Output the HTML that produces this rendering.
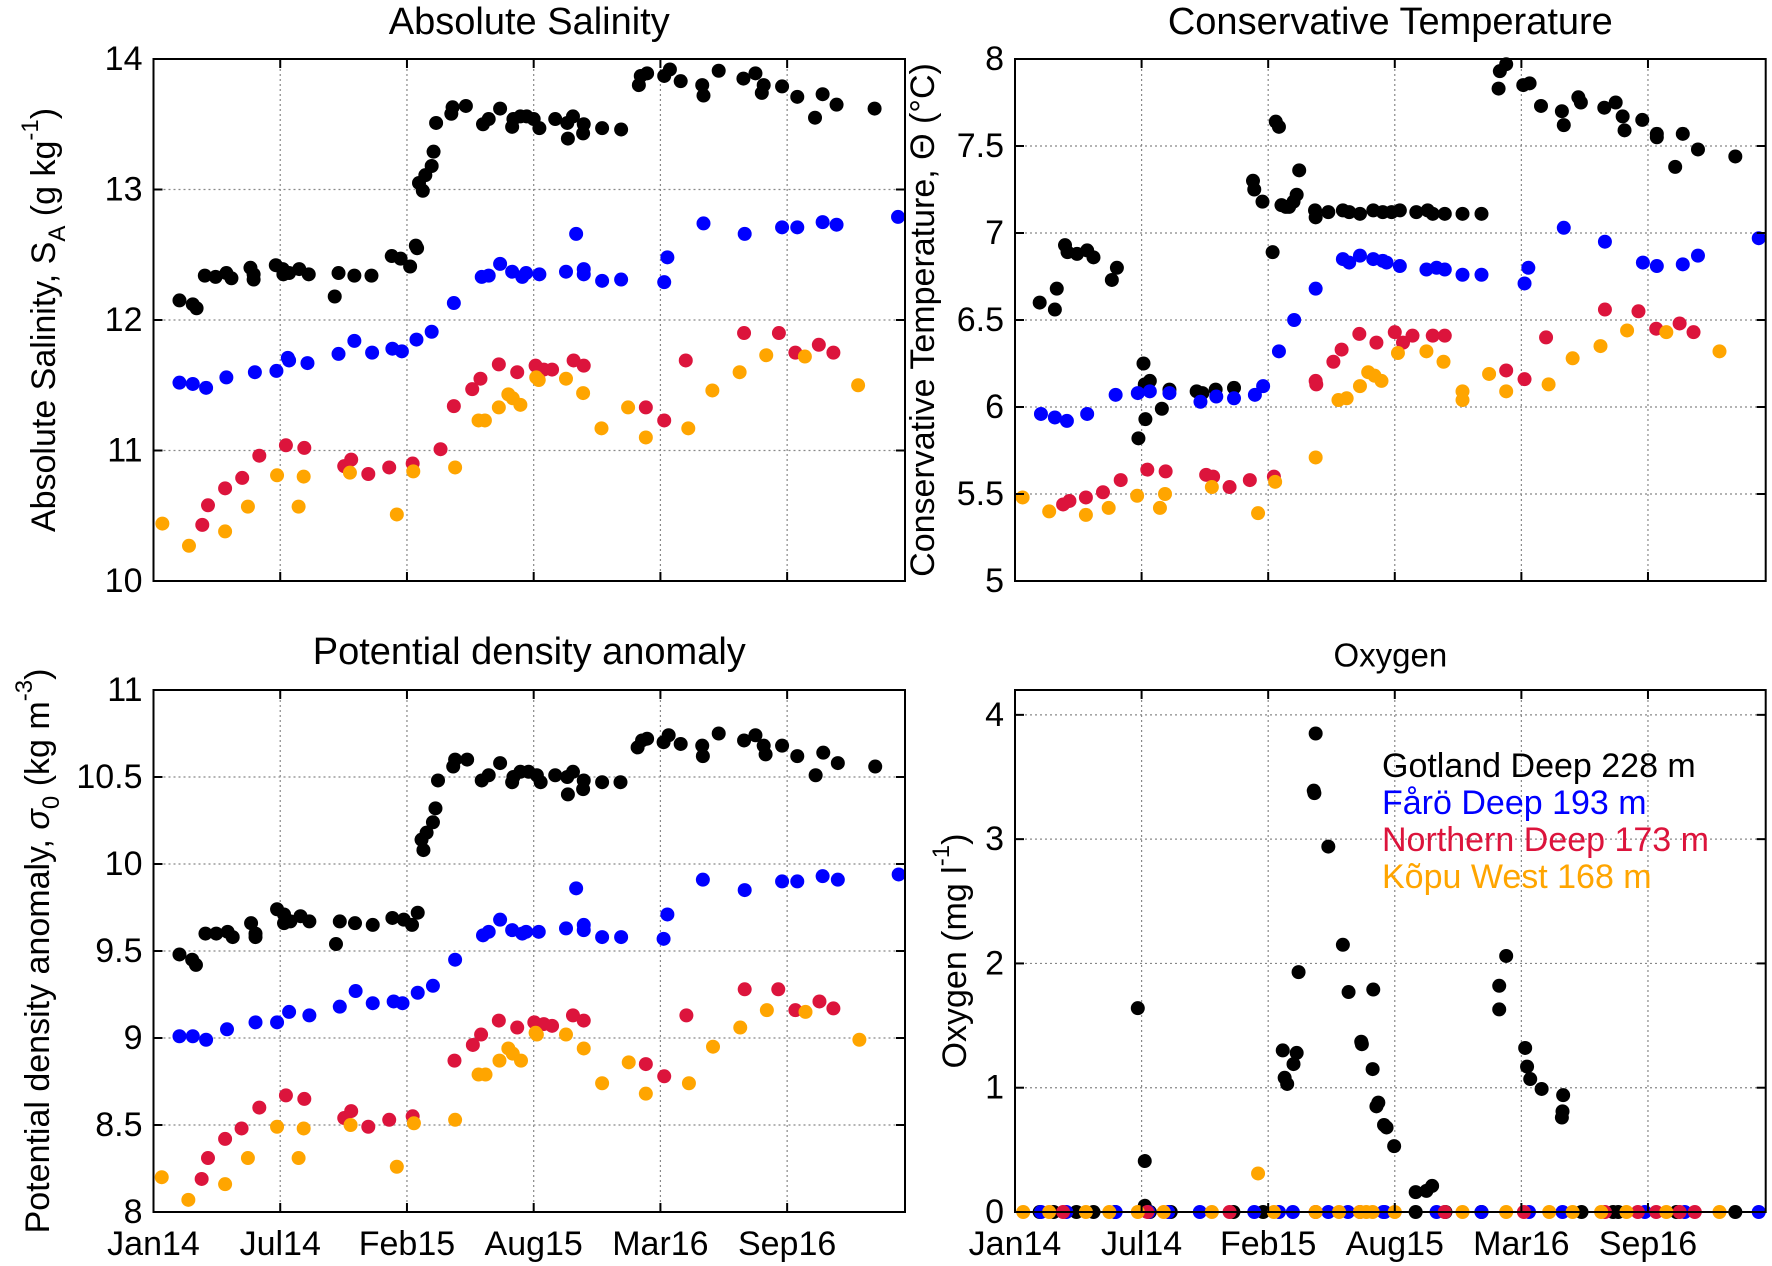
<!DOCTYPE html>
<html><head><meta charset="utf-8">
<style>
html,body{margin:0;padding:0;background:#fff;}
svg{display:block;font-family:"Liberation Sans",Arial,sans-serif;}
</style></head>
<body>
<svg id="fig" width="1772" height="1266" viewBox="0 0 1772 1266" xmlns="http://www.w3.org/2000/svg">
<rect x="0" y="0" width="1772" height="1266" fill="#fff"/>
</svg>
<script>
// ---------- data: [day since 1 Jan 2014, value] ----------
const xTickDays = [0,200,400,600,800,1000];
const xTickLabels = ["Jan14","Jul14","Feb15","Aug15","Mar16","Sep16"];

const salGotland = [[41,12.15],[62,12.12],[68,12.09],[81,12.34],[98,12.33],[115,12.36],[123,12.32],[153,12.40],[158,12.35],[158,12.31],[193,12.42],[204,12.39],[205,12.35],[214,12.36],[230,12.39],[245,12.35],[286,12.18],[292,12.36],[317,12.34],[344,12.34],[376,12.49],[390,12.47],[405,12.41],[414,12.57],[416,12.55],[419,13.05],[425,12.99],[429,13.11],[439,13.18],[442,13.29],[446,13.51],[470,13.58],[472,13.63],[493,13.64],[520,13.50],[529,13.54],[547,13.62],[566,13.48],[568,13.54],[579,13.56],[589,13.56],[600,13.54],[609,13.47],[634,13.54],[653,13.51],[654,13.39],[662,13.56],[679,13.50],[678,13.43],[708,13.47],[738,13.46],[766,13.80],[769,13.87],[779,13.89],[806,13.87],[815,13.92],[832,13.83],[866,13.80],[868,13.72],[892,13.91],[931,13.85],[950,13.89],[963,13.80],[960,13.74],[992,13.79],[1016,13.71],[1044,13.55],[1056,13.73],[1078,13.65],[1138,13.62]];
const salFaro = [[41,11.52],[62,11.51],[83,11.48],[115,11.56],[160,11.60],[194,11.61],[212,11.71],[214,11.69],[243,11.67],[292,11.74],[317,11.84],[345,11.75],[377,11.78],[392,11.76],[415,11.85],[439,11.91],[474,12.13],[518,12.33],[529,12.34],[547,12.43],[566,12.37],[582,12.33],[588,12.36],[609,12.35],[651,12.37],[667,12.66],[679,12.39],[679,12.35],[708,12.30],[738,12.31],[806,12.29],[811,12.48],[868,12.74],[933,12.66],[992,12.71],[1016,12.71],[1056,12.75],[1078,12.73],[1175,12.79]];
const salNorthern = [[77,10.43],[86,10.58],[113,10.71],[140,10.79],[167,10.96],[209,11.04],[238,11.02],[301,10.88],[312,10.93],[339,10.82],[372,10.87],[409,10.90],[453,11.01],[474,11.34],[503,11.47],[516,11.55],[545,11.66],[574,11.60],[603,11.65],[616,11.62],[629,11.62],[663,11.69],[679,11.65],[777,11.33],[806,11.23],[840,11.69],[932,11.90],[987,11.90],[1013,11.75],[1050,11.81],[1073,11.75]];
const salKopu = [[14,10.44],[56,10.27],[113,10.38],[149,10.57],[195,10.81],[229,10.57],[237,10.80],[310,10.83],[384,10.51],[410,10.84],[476,10.87],[513,11.23],[523,11.23],[545,11.33],[560,11.43],[567,11.40],[579,11.35],[604,11.56],[608,11.54],[651,11.55],[678,11.44],[707,11.17],[749,11.33],[777,11.10],[844,11.17],[882,11.46],[925,11.60],[967,11.73],[1028,11.72],[1112,11.50]];

const tempGotland = [[39,6.60],[63,6.56],[66,6.68],[79,6.93],[83,6.89],[98,6.88],[114,6.90],[124,6.86],[153,6.73],[161,6.80],[195,5.82],[203,6.25],[205,6.13],[206,5.93],[213,6.15],[232,5.99],[244,6.10],[287,6.09],[296,6.08],[317,6.10],[346,6.11],[376,7.30],[378,7.25],[391,7.18],[407,6.89],[412,7.64],[417,7.61],[421,7.16],[428,7.15],[433,7.15],[440,7.18],[445,7.22],[449,7.36],[474,7.13],[475,7.09],[495,7.12],[518,7.13],[528,7.12],[545,7.11],[566,7.13],[581,7.12],[595,7.12],[608,7.13],[634,7.12],[652,7.13],[660,7.11],[679,7.11],[707,7.11],[737,7.11],[764,7.83],[766,7.93],[776,7.97],[803,7.85],[813,7.86],[831,7.73],[864,7.70],[867,7.62],[890,7.78],[894,7.75],[931,7.72],[949,7.75],[960,7.67],[963,7.59],[991,7.65],[1014,7.57],[1014,7.55],[1043,7.38],[1055,7.57],[1079,7.48],[1138,7.44]];
const tempFaro = [[41,5.96],[63,5.94],[82,5.92],[114,5.96],[159,6.07],[194,6.08],[213,6.09],[244,6.08],[293,6.03],[318,6.06],[346,6.05],[379,6.07],[392,6.12],[417,6.32],[441,6.50],[475,6.68],[518,6.85],[528,6.83],[545,6.87],[566,6.85],[581,6.84],[587,6.83],[608,6.81],[650,6.79],[666,6.80],[679,6.79],[707,6.76],[737,6.76],[805,6.71],[811,6.80],[867,7.03],[932,6.95],[992,6.83],[1014,6.81],[1055,6.82],[1079,6.87],[1175,6.97]];
const tempNorthern = [[76,5.44],[86,5.46],[112,5.48],[139,5.51],[167,5.58],[209,5.64],[238,5.63],[302,5.61],[313,5.60],[339,5.54],[371,5.58],[409,5.60],[475,6.15],[476,6.13],[503,6.26],[516,6.33],[544,6.42],[571,6.37],[600,6.43],[613,6.37],[628,6.41],[660,6.41],[679,6.41],[776,6.21],[805,6.16],[839,6.40],[932,6.56],[985,6.55],[1013,6.45],[1050,6.48],[1072,6.43]];
const tempKopu = [[12,5.48],[54,5.40],[112,5.38],[148,5.42],[193,5.49],[229,5.42],[237,5.50],[311,5.54],[384,5.39],[411,5.57],[475,5.71],[511,6.04],[524,6.05],[545,6.12],[558,6.20],[568,6.18],[579,6.15],[605,6.31],[650,6.32],[677,6.26],[707,6.09],[707,6.04],[749,6.19],[776,6.09],[843,6.13],[881,6.28],[925,6.35],[967,6.44],[1029,6.43],[1113,6.32]];

const densGotland = [[41,9.48],[61,9.45],[67,9.42],[82,9.60],[99,9.60],[117,9.61],[125,9.58],[154,9.66],[161,9.60],[161,9.58],[195,9.74],[206,9.71],[206,9.66],[216,9.67],[232,9.70],[246,9.67],[288,9.54],[294,9.67],[318,9.66],[346,9.65],[377,9.69],[395,9.68],[408,9.65],[417,9.72],[423,10.14],[426,10.08],[431,10.18],[441,10.24],[445,10.32],[449,10.48],[473,10.56],[476,10.60],[495,10.60],[518,10.48],[529,10.51],[547,10.58],[566,10.47],[568,10.50],[579,10.53],[592,10.53],[605,10.51],[611,10.47],[634,10.51],[653,10.50],[654,10.40],[662,10.53],[679,10.48],[678,10.43],[708,10.47],[737,10.47],[764,10.67],[771,10.71],[779,10.72],[805,10.70],[813,10.74],[832,10.69],[866,10.68],[867,10.62],[892,10.75],[932,10.71],[950,10.74],[963,10.68],[966,10.63],[992,10.68],[1016,10.62],[1045,10.51],[1057,10.64],[1080,10.58],[1139,10.56]];
const densFaro = [[41,9.01],[62,9.01],[83,8.99],[116,9.05],[161,9.09],[195,9.09],[214,9.15],[246,9.13],[294,9.18],[319,9.27],[346,9.20],[379,9.21],[393,9.20],[417,9.26],[441,9.30],[476,9.45],[520,9.59],[529,9.61],[547,9.68],[566,9.62],[582,9.60],[588,9.61],[608,9.61],[651,9.63],[667,9.86],[679,9.65],[679,9.62],[708,9.58],[738,9.58],[805,9.57],[811,9.71],[867,9.91],[933,9.85],[992,9.90],[1016,9.90],[1056,9.93],[1080,9.91],[1176,9.94]];
const densNorthern = [[76,8.19],[86,8.31],[113,8.42],[139,8.48],[167,8.60],[209,8.67],[238,8.65],[301,8.54],[312,8.58],[339,8.49],[372,8.53],[409,8.55],[475,8.87],[504,8.96],[517,9.02],[545,9.10],[574,9.06],[601,9.09],[616,9.08],[629,9.07],[662,9.13],[679,9.10],[777,8.85],[806,8.78],[841,9.13],[933,9.28],[986,9.28],[1013,9.16],[1051,9.21],[1073,9.17]];
const densKopu = [[13,8.20],[55,8.07],[113,8.16],[149,8.31],[195,8.49],[229,8.31],[237,8.48],[311,8.50],[384,8.26],[411,8.51],[476,8.53],[513,8.79],[524,8.79],[546,8.87],[560,8.94],[567,8.91],[580,8.87],[603,9.03],[605,9.02],[651,9.02],[679,8.94],[708,8.74],[750,8.86],[777,8.68],[845,8.74],[883,8.95],[926,9.06],[968,9.16],[1029,9.15],[1114,8.99]];

const oxyGotland = [[39,0],[61,0],[97,0],[124,0],[158,0],[194,1.64],[205,0.41],[205,0.05],[213,0],[246,0],[345,0],[392,0],[423,1.30],[426,1.08],[430,1.03],[440,1.19],[445,1.28],[448,1.93],[472,3.39],[473,3.37],[475,3.85],[495,2.94],[518,2.15],[527,1.77],[547,1.37],[548,1.35],[565,1.15],[566,1.79],[571,0.85],[574,0.88],[583,0.70],[587,0.68],[599,0.53],[633,0.16],[650,0.17],[659,0.21],[633,0],[680,0],[737,0],[765,1.63],[765,1.82],[776,2.06],[806,1.32],[809,1.17],[814,1.07],[832,0.99],[864,0.76],[865,0.81],[866,0.94],[895,0],[945,0],[953,0],[1045,0],[1138,0]];
const oxyFaro = [[41,0],[81,0],[159,0],[211,0],[242,0],[292,0],[378,0],[417,0],[439,0],[495,0],[526,0],[582,0],[584,0],[666,0],[737,0],[812,0],[865,0],[995,0],[1058,0],[1175,0]];
const oxyNorthern = [[76,0],[209,0],[339,0],[475,0],[545,0],[679,0],[804,0],[932,0],[984,0],[1013,0],[1050,0],[1074,0]];
const oxyKopu = [[13,0],[54,0],[112,0],[149,0],[194,0],[235,0],[311,0],[384,0.31],[409,0],[475,0],[512,0],[545,0],[555,0],[565,0],[600,0],[707,0],[776,0],[844,0],[881,0],[926,0],[966,0],[1029,0],[1113,0]];

const salTicks = [10,11,12,13,14];
const tempTicks = [5,5.5,6,6.5,7,7.5,8];
const densTicks = [8,8.5,9,9.5,10,10.5,11];
const oxyTicks = [0,1,2,3,4];

// ---------- drawing ----------
const NS = "http://www.w3.org/2000/svg";
const svg = document.getElementById('fig');
const DAY_MAX = 1186;
const COLORS = ["#000000","#0000ff","#dc143c","#ffa500"];
const SERIES_NAMES = ["gotland-deep","faro-deep","northern-deep","kopu-west"];

function mk(tag, attrs, parent){
  const e = document.createElementNS(NS, tag);
  for (const k in attrs) e.setAttribute(k, attrs[k]);
  (parent||svg).appendChild(e);
  return e;
}

function drawPanel(p){
  const g = mk('g', {});
  
  
  const xs = d => p.x0 + d * (p.x1 - p.x0) / DAY_MAX;
  const ys = v => p.y1 - (v - p.ymin) * (p.y1 - p.y0) / (p.ymax - p.ymin);
  xTickDays.forEach(d => {
    if (d <= 0) return;
    const gl = mk('line', {x1:xs(d), x2:xs(d), y1:p.y0, y2:p.y1, stroke:'#888', 'stroke-width':1.2, 'stroke-dasharray':'2,3'}, g);
    
    
  });
  p.yticks.forEach(v => {
    if (v <= p.ymin || v >= p.ymax) return;
    const gl = mk('line', {x1:p.x0, x2:p.x1, y1:ys(v), y2:ys(v), stroke:'#888', 'stroke-width':1.2, 'stroke-dasharray':'2,3'}, g);
    
    
  });
  p.series.forEach((s, i) => {
    const sg = mk('g', {fill: COLORS[i]}, g);
    
    
    s.forEach(pt => {
      const c = mk('circle', {cx: xs(pt[0]), cy: ys(pt[1]), r: 7}, sg);
      
      
    });
  });
  const box = mk('rect', {x:p.x0, y:p.y0, width:p.x1-p.x0, height:p.y1-p.y0, fill:'none', stroke:'#000', 'stroke-width':2}, g);
  
  
  xTickDays.forEach((d, i) => {
    mk('line', {x1:xs(d), x2:xs(d), y1:p.y1, y2:p.y1-9, stroke:'#000', 'stroke-width':2}, g);
    mk('line', {x1:xs(d), x2:xs(d), y1:p.y0, y2:p.y0+9, stroke:'#000', 'stroke-width':2}, g);
    if (p.xlabels) {
      const t = mk('text', {x:xs(d), y:p.y1+32, 'font-size':34, 'text-anchor':'middle', 'dominant-baseline':'central', fill:'#000'}, g);
      t.textContent = xTickLabels[i];
      
      
    }
  });
  p.yticks.forEach(v => {
    mk('line', {x1:p.x0, x2:p.x0+9, y1:ys(v), y2:ys(v), stroke:'#000', 'stroke-width':2}, g);
    mk('line', {x1:p.x1, x2:p.x1-9, y1:ys(v), y2:ys(v), stroke:'#000', 'stroke-width':2}, g);
    const t = mk('text', {x:p.x0-11, y:ys(v), 'font-size':34, 'text-anchor':'end', 'dominant-baseline':'central', fill:'#000'}, g);
    t.textContent = String(v);
    
    
  });
  const tt = mk('text', {x:(p.x0+p.x1)/2, y:p.titleY, 'font-size':p.titleSize, 'text-anchor':'middle', 'dominant-baseline':'central', fill:'#000'}, g);
  tt.textContent = p.title;
  
  
  const cy = (p.y0+p.y1)/2;
  const yl = mk('text', {x:p.ylabelX, y:cy, 'font-size':34, 'text-anchor':'middle', 'dominant-baseline':'central', fill:'#000', transform:'rotate(-90 '+p.ylabelX+' '+cy+')'}, g);
  yl.innerHTML = p.ylabel;
  
  
  return {g, xs, ys};
}

drawPanel({name:'salinity', x0:153.5, x1:905, y0:59, y1:581, ymin:10, ymax:14, yticks:salTicks, xlabels:false,
  series:[salGotland, salFaro, salNorthern, salKopu], title:'Absolute Salinity', titleY:22, titleSize:38, ylabelX:44,
  ylabel:'Absolute Salinity, S<tspan baseline-shift="sub" font-size="24">A</tspan> (g kg<tspan baseline-shift="super" font-size="24">-1</tspan>)'});
drawPanel({name:'temperature', x0:1015, x1:1765.7, y0:59, y1:581, ymin:5, ymax:8, yticks:tempTicks, xlabels:false,
  series:[tempGotland, tempFaro, tempNorthern, tempKopu], title:'Conservative Temperature', titleY:22, titleSize:38, ylabelX:923,
  ylabel:'Conservative Temperature, Θ (°C)'});
drawPanel({name:'density', x0:153.5, x1:905, y0:690, y1:1212, ymin:8, ymax:11, yticks:densTicks, xlabels:true,
  series:[densGotland, densFaro, densNorthern, densKopu], title:'Potential density anomaly', titleY:652, titleSize:38, ylabelX:38,
  ylabel:'Potential density anomaly, <tspan font-style="italic">σ</tspan><tspan baseline-shift="sub" font-size="24">0</tspan> (kg m<tspan baseline-shift="super" font-size="24">-3</tspan>)'});
drawPanel({name:'oxygen', x0:1015, x1:1765.7, y0:690, y1:1212, ymin:0, ymax:4.2, yticks:oxyTicks, xlabels:true,
  series:[oxyGotland, oxyFaro, oxyNorthern, oxyKopu], title:'Oxygen', titleY:655, titleSize:33, ylabelX:955,
  ylabel:'Oxygen (mg l<tspan baseline-shift="super" font-size="24">-1</tspan>)'});

const legendLabels = ["Gotland Deep 228 m","Fårö Deep 193 m","Northern Deep 173 m","Kõpu West 168 m"];
const lg = mk('g', {});


legendLabels.forEach((lab, i) => {
  const t = mk('text', {x:1382, y:766 + i*37, 'font-size':34, 'dominant-baseline':'central', fill:COLORS[i]}, lg);
  t.textContent = lab;
  
  
});
</script>
</body></html>
